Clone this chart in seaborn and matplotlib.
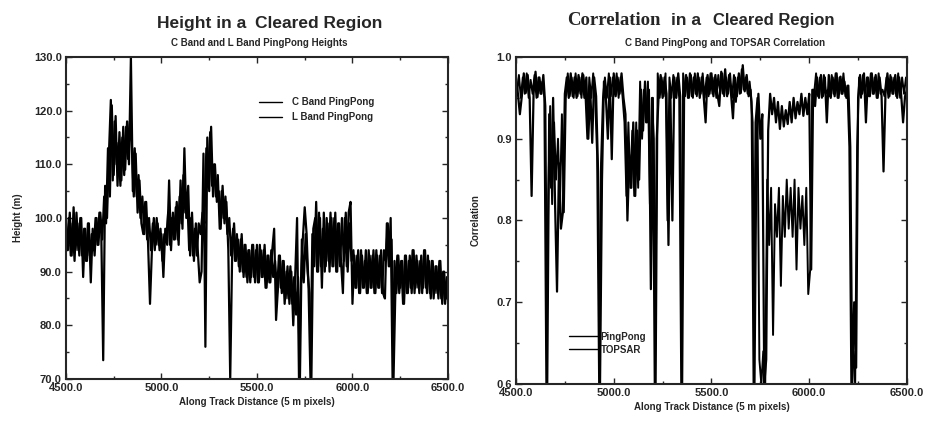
import numpy as np
import pandas as pd
import seaborn as sns
import matplotlib.pyplot as plt
from matplotlib.ticker import MultipleLocator, FormatStrFormatter

# along track sample positions (5 m pixels), the two series are interleaved
dist_a = np.arange(4500, 6501, 10)
dist_b = np.arange(4505, 6496, 10)

# heights (m), one row per 100 pixels
c_band_height = [
    99, 94, 101, 93, 102, 94, 99, 93, 100, 89,
    98, 92, 99, 88, 98, 93, 100, 95, 101, 96,
    104, 99, 113, 104, 121, 108, 119, 106, 116, 107,
    117, 109, 118, 110, 130, 105, 113, 104, 108, 100,
    104, 97, 103, 95, 84, 94, 100, 95, 99, 94,
    97, 89, 98, 95, 107, 94, 101, 96, 103, 95,
    107, 98, 113, 100, 106, 93, 101, 92, 99, 94,
    88, 90, 112, 76, 115, 105, 117, 104, 110, 103,
    105, 98, 106, 99, 103, 94, 70, 93, 99, 92,
    96, 90, 97, 89, 95, 88, 94, 89, 95, 88,
    95, 88, 94, 89, 95, 87, 93, 88, 94, 98,
    81, 87, 93, 86, 92, 85, 91, 84, 90, 80,
    89, 100, 70, 88, 96, 102, 97, 87, 70, 97,
    91, 103, 90, 100, 87, 101, 91, 99, 90, 100,
    91, 101, 90, 99, 92, 86, 100, 91, 101, 103,
    84, 93, 87, 94, 86, 93, 87, 94, 86, 93,
    87, 94, 86, 93, 87, 94, 86, 85, 99, 91,
    100, 70, 92, 86, 93, 87, 92, 84, 93, 86,
    93, 86, 94, 87, 92, 86, 93, 87, 94, 86,
    92, 85, 92, 86, 91, 85, 92, 84, 90, 85,
    89,
]
l_band_height = [
    94, 100, 93, 99, 92, 101, 94, 100, 93, 98,
    92, 99, 93, 97, 94, 100, 95, 101, 97, 73.5,
    106, 100, 112, 122, 107, 118, 110, 114, 106, 115,
    108, 117, 111, 118, 113, 104, 112, 101, 107, 99,
    97, 103, 96, 100, 94, 99, 94, 100, 95, 98,
    92, 97, 96, 101, 95, 100, 96, 102, 96, 104,
    99, 108, 101, 104, 94, 100, 93, 98, 93, 99,
    97, 101, 99, 113, 106, 116, 106, 110, 104, 108,
    98, 105, 100, 104, 97, 100, 93, 98, 92, 97,
    91, 96, 90, 95, 89, 94, 88, 95, 89, 94,
    88, 95, 89, 94, 87, 93, 88, 94, 89, 92,
    86, 93, 87, 92, 84, 90, 85, 91, 84, 89,
    82, 89, 70, 96, 88, 97, 90, 86, 70, 98,
    100, 90, 101, 91, 98, 90, 100, 92, 101, 91,
    100, 90, 99, 91, 100, 92, 101, 90, 99, 92,
    94, 87, 93, 86, 94, 87, 92, 86, 94, 87,
    93, 86, 94, 87, 93, 86, 94, 92, 99, 91,
    96, 70, 87, 93, 86, 92, 84, 93, 86, 92,
    87, 94, 86, 93, 87, 92, 86, 94, 87, 93,
    86, 92, 85, 91, 86, 92, 85, 90, 84, 89,
]

# correlation
pingpong_corr = [
    0.975, 0.955, 0.93, 0.952, 0.98, 0.956, 0.978, 0.95, 0.83, 0.955,
    0.982, 0.951, 0.975, 0.955, 0.978, 0.94, 0.6, 0.93, 0.84, 0.95,
    0.82, 0.713, 0.87, 0.79, 0.81, 0.955, 0.975, 0.95, 0.98, 0.952,
    0.975, 0.95, 0.978, 0.955, 0.98, 0.95, 0.975, 0.90, 0.96, 0.895,
    0.975, 0.952, 0.86, 0.6, 0.85, 0.97, 0.95, 0.90, 0.975, 0.875,
    0.98, 0.952, 0.975, 0.955, 0.98, 0.95, 0.93, 0.80, 0.88, 0.84,
    0.92, 0.83, 0.91, 0.85, 0.96, 0.91, 0.97, 0.92, 0.96, 0.716,
    0.95, 0.6, 0.9, 0.955, 0.978, 0.95, 0.975, 0.955, 0.77, 0.952,
    0.80, 0.975, 0.95, 0.98, 0.952, 0.6, 0.955, 0.978, 0.95, 0.98,
    0.952, 0.975, 0.955, 0.98, 0.95, 0.975, 0.952, 0.92, 0.978, 0.955,
    0.98, 0.952, 0.978, 0.955, 0.94, 0.982, 0.955, 0.985, 0.952, 0.978,
    0.955, 0.925, 0.975, 0.952, 0.98, 0.956, 0.99, 0.958, 0.978, 0.952,
    0.96, 0.92, 0.6, 0.89, 0.955, 0.9, 0.93, 0.6, 0.63, 0.91,
    0.955, 0.93, 0.95, 0.92, 0.945, 0.912, 0.94, 0.915, 0.935, 0.918,
    0.945, 0.92, 0.95, 0.925, 0.945, 0.93, 0.955, 0.928, 0.95, 0.93,
    0.955, 0.74, 0.96, 0.94, 0.975, 0.95, 0.978, 0.952, 0.975, 0.92,
    0.978, 0.95, 0.975, 0.952, 0.98, 0.95, 0.976, 0.955, 0.97, 0.95,
    0.965, 0.89, 0.6, 0.7, 0.62, 0.95, 0.978, 0.955, 0.98, 0.92,
    0.975, 0.952, 0.98, 0.955, 0.978, 0.95, 0.975, 0.952, 0.86, 0.955,
    0.98, 0.952, 0.975, 0.955, 0.978, 0.95, 0.975, 0.955, 0.92, 0.952,
    0.96,
]
topsar_corr = [
    0.955, 0.978, 0.95, 0.975, 0.955, 0.98, 0.95, 0.972, 0.955, 0.978,
    0.95, 0.975, 0.955, 0.97, 0.95, 0.6, 0.83, 0.94, 0.82, 0.92,
    0.85, 0.90, 0.82, 0.93, 0.81, 0.95, 0.98, 0.952, 0.975, 0.95,
    0.98, 0.952, 0.975, 0.95, 0.978, 0.955, 0.90, 0.975, 0.95, 0.98,
    0.95, 0.88, 0.6, 0.87, 0.95, 0.975, 0.95, 0.98, 0.952, 0.975,
    0.955, 0.98, 0.95, 0.975, 0.952, 0.92, 0.83, 0.92, 0.84, 0.91,
    0.83, 0.92, 0.84, 0.97, 0.90, 0.96, 0.92, 0.97, 0.82, 0.95,
    0.9, 0.6, 0.98, 0.95, 0.975, 0.952, 0.98, 0.80, 0.975, 0.95,
    0.978, 0.952, 0.975, 0.95, 0.6, 0.98, 0.952, 0.975, 0.95, 0.978,
    0.95, 0.98, 0.952, 0.975, 0.955, 0.98, 0.95, 0.975, 0.952, 0.98,
    0.955, 0.975, 0.95, 0.978, 0.955, 0.98, 0.952, 0.975, 0.955, 0.98,
    0.95, 0.978, 0.945, 0.975, 0.955, 0.985, 0.96, 0.975, 0.955, 0.97,
    0.945, 0.6, 0.92, 0.95, 0.63, 0.6, 0.64, 0.6, 0.85, 0.77,
    0.84, 0.66, 0.82, 0.78, 0.84, 0.72, 0.83, 0.78, 0.85, 0.79,
    0.84, 0.78, 0.85, 0.74, 0.84, 0.79, 0.83, 0.77, 0.84, 0.71,
    0.74, 0.96, 0.955, 0.98, 0.952, 0.975, 0.95, 0.978, 0.955, 0.96,
    0.952, 0.978, 0.955, 0.98, 0.95, 0.975, 0.955, 0.98, 0.952, 0.965,
    0.89, 0.6, 0.64, 0.6, 0.89, 0.975, 0.95, 0.978, 0.955, 0.975,
    0.952, 0.98, 0.955, 0.975, 0.95, 0.98, 0.955, 0.96, 0.952, 0.975,
    0.95, 0.978, 0.955, 0.975, 0.952, 0.98, 0.95, 0.975, 0.955, 0.975,
]

x_ticks = [4500, 5000, 5500, 6000, 6500]
height_ticks = [70, 80, 90, 100, 110, 120, 130]
corr_ticks = [0.6, 0.7, 0.8, 0.9, 1.0]

sns.set_style('ticks')
plt.rcParams['font.family'] = ['Liberation Sans', 'DejaVu Sans']
plt.rcParams['font.weight'] = 'bold'

fig = plt.figure(figsize=(9.29, 4.21), dpi=100)
ax1 = fig.add_axes([0.0710, 0.0998, 0.4112, 0.7648])
ax2 = fig.add_axes([0.5554, 0.0879, 0.4209, 0.7767])

h_c = pd.DataFrame({'dist': dist_a, 'val': c_band_height})
h_l = pd.DataFrame({'dist': dist_b, 'val': l_band_height})
c_p = pd.DataFrame({'dist': dist_a, 'val': pingpong_corr})
c_t = pd.DataFrame({'dist': dist_b, 'val': topsar_corr})

sns.lineplot(data=h_c, x='dist', y='val', color='black', lw=1.6, estimator=None, ax=ax1, label='C Band PingPong')
sns.lineplot(data=h_l, x='dist', y='val', color='black', lw=1.6, estimator=None, ax=ax1, label='L Band PingPong')
sns.lineplot(data=c_p, x='dist', y='val', color='black', lw=1.6, estimator=None, ax=ax2, label='PingPong')
sns.lineplot(data=c_t, x='dist', y='val', color='black', lw=1.4, estimator=None, ax=ax2, label='TOPSAR')

for ax, yt, ymin, ymax, yminor in [
    (ax1, height_ticks, 70, 130, 5),
    (ax2, corr_ticks, 0.6, 1.0, 0.05),
]:
    ax.set_xlim(4500, 6500)
    ax.set_ylim(ymin, ymax)
    ax.set_xticks(x_ticks)
    ax.set_yticks(yt)
    ax.xaxis.set_major_formatter(FormatStrFormatter('%.1f'))
    ax.yaxis.set_major_formatter(FormatStrFormatter('%.1f'))
    ax.xaxis.set_minor_locator(MultipleLocator(250))
    ax.yaxis.set_minor_locator(MultipleLocator(yminor))
    ax.tick_params(which='both', direction='in', top=True, right=True, width=1, labelsize=8, pad=3)
    ax.tick_params(which='major', length=4)
    ax.tick_params(which='minor', length=2)
    for s in ax.spines.values():
        s.set_linewidth(1.5)
    ax.set_xlabel('Along Track Distance (5 m pixels)', fontsize=7, fontweight='bold', labelpad=3)
    for lab in ax.get_xticklabels() + ax.get_yticklabels():
        lab.set_fontweight('bold')

ax1.set_ylabel('Height (m)', fontsize=7, fontweight='bold', labelpad=8)
ax2.set_ylabel('Correlation', fontsize=7, fontweight='bold', labelpad=11)

leg1 = ax1.legend(loc='upper left', bbox_to_anchor=(0.505, 0.875), frameon=False, fontsize=7,
                  handlelength=2.4, handletextpad=1.0, labelspacing=0.5, borderpad=0, borderaxespad=0)
leg2 = ax2.legend(loc='upper left', bbox_to_anchor=(0.135, 0.16), frameon=False, fontsize=7,
                  handlelength=3.0, handletextpad=0.3, labelspacing=0.3, borderpad=0, borderaxespad=0)
for leg in (leg1, leg2):
    for h in leg.get_lines():
        h.set_linewidth(1.0)

# titles, made of pieces in different faces
fig.text(157 / 929, 1 - 28 / 421, 'Height in a', fontsize=12.5, fontweight='bold', va='baseline')
fig.text(255 / 929, 1 - 28 / 421, 'Cleared Region', fontsize=12.5, fontweight='bold', va='baseline')
fig.text(567 / 929, 1 - 25 / 421, 'Correlation', fontsize=13.5, fontweight='bold', va='baseline',
         family=['Liberation Serif', 'DejaVu Serif'])
fig.text(671 / 929, 1 - 25 / 421, 'in a', fontsize=12.5, fontweight='bold', va='baseline')
fig.text(713 / 929, 1 - 25 / 421, 'Cleared Region', fontsize=12, fontweight='bold', va='baseline')
fig.text(259 / 929, 1 - 43 / 421, 'C Band and L Band PingPong Heights', fontsize=7, fontweight='bold',
         ha='center', va='center')
fig.text(725 / 929, 1 - 43 / 421, 'C Band PingPong and TOPSAR Correlation', fontsize=7, fontweight='bold',
         ha='center', va='center')

plt.savefig('out.png', dpi=100)
